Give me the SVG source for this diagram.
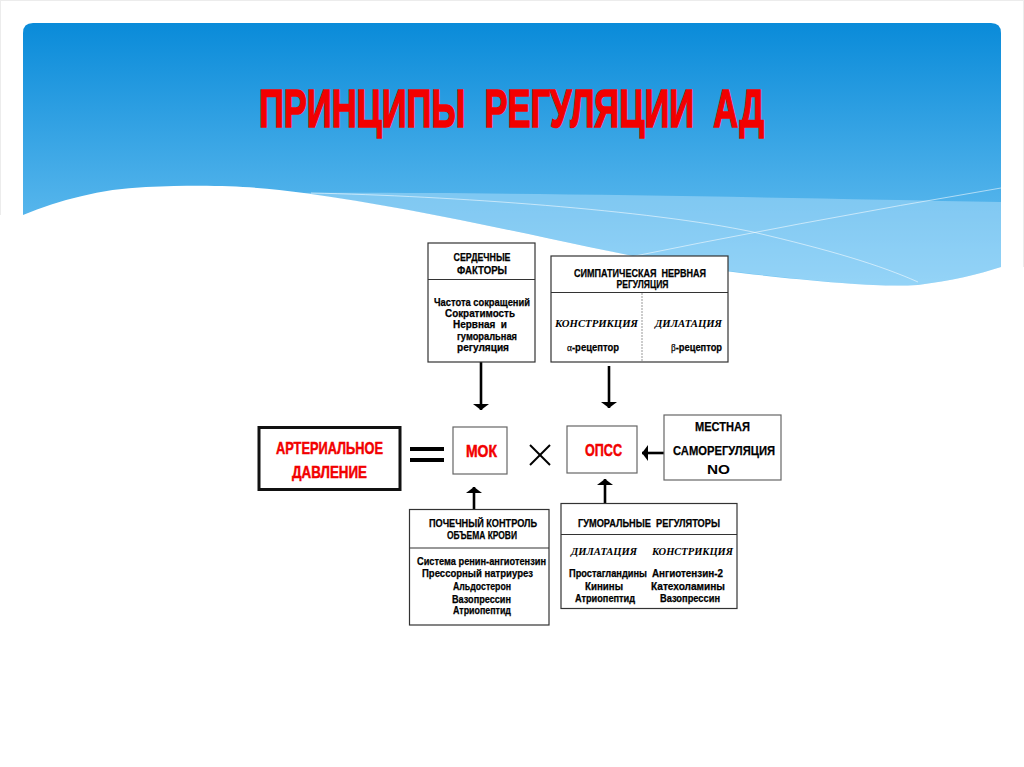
<svg xmlns="http://www.w3.org/2000/svg" width="1024" height="767" viewBox="0 0 1024 767">
<defs>
<linearGradient id="sky" gradientUnits="userSpaceOnUse" x1="0" y1="23" x2="0" y2="285">
<stop offset="0" stop-color="#0a8bd9"/>
<stop offset="1" stop-color="#72c5f3"/>
</linearGradient>
<marker id="ah" viewBox="0 0 6 16" refX="6" refY="8" markerWidth="6" markerHeight="16" markerUnits="userSpaceOnUse" orient="auto">
<path d="M0,0 L6,8 L0,16 Z" fill="#000"/>
</marker>
<style>
.cn{font-family:"Liberation Sans Narrow","Liberation Sans",Arial,sans-serif;font-weight:bold;text-anchor:middle;fill:#000;stroke:#000;stroke-width:0.25}
.it{font-family:"Liberation Serif","Times New Roman",serif;font-weight:bold;font-style:italic;text-anchor:middle;fill:#000;font-size:11px}
.hd{font-size:11px}
.bd{font-size:10.5px}
.red{fill:#f20000;stroke:#f20000;stroke-width:0.5;font-size:17px}
.box{fill:#fff;stroke:#333;stroke-width:1.2}
.sm{fill:#fff;stroke:#666;stroke-width:1.2}
.conn{stroke:#000;stroke-width:2.6;fill:none;marker-end:url(#ah)}
</style>
</defs>
<rect x="0.5" y="0.5" width="1023" height="766" fill="#fff" stroke="#ececec"/>
<g id="background">
<path d="M23,33 Q23,23 33,23 L991,23 Q1001,23 1001,33 L1001,290 L23,290 Z" fill="url(#sky)"/>
<path d="M300,193 C 480,192 760,197 1001,202 L1001,267 C 980,274 950,281 918,285 C 880,286 860,285 842,283 C 720,272 660,262 589,247 C 500,228 400,206 300,193 Z" fill="#c4e8fc" opacity="0.42"/>
<path d="M311,193 C 450,196 650,210 753,232 C 830,250 880,265 918,282" fill="none" stroke="#fff" stroke-opacity="0.55" stroke-width="1"/>
<path d="M600,263 Q800,222 1001,188" fill="none" stroke="#fff" stroke-opacity="0.55" stroke-width="1"/>
<path d="M0,215 L23,215 C 60,200 100,189 146,187 C 220,184 260,187 304,193 C 400,206 500,228 589,247 C 660,262 720,273 842,283 C 880,286 900,286 918,285 C 950,281 980,274 1001,267 L1024,267 L1024,767 L0,767 Z" fill="#fff"/>
</g>
<g id="title">
<text x="511.5" y="127" font-family="Liberation Sans Narrow,Liberation Sans,Arial,sans-serif" font-weight="bold" font-size="54" fill="#f20000" stroke="#f20000" stroke-width="1.6" text-anchor="middle" textLength="505" lengthAdjust="spacingAndGlyphs">ПРИНЦИПЫ&#160;&#160;РЕГУЛЯЦИИ&#160;&#160;АД</text>
</g>
<g id="connectors">
<line class="conn" x1="481" y1="362" x2="481" y2="410"/>
<line class="conn" x1="609" y1="366" x2="609" y2="408"/>
<line class="conn" x1="474" y1="509" x2="474" y2="487"/>
<line class="conn" x1="605" y1="503" x2="605" y2="479"/>
<line class="conn" x1="664" y1="453" x2="642" y2="453"/>
</g>
<g id="cardiac">
<rect class="box" x="428" y="243" width="107" height="119"/>
<line x1="428" y1="279.5" x2="535" y2="279.5" stroke="#333" stroke-width="1.2"/>
<text class="cn hd" x="482" y="260.5" textLength="57" lengthAdjust="spacingAndGlyphs">СЕРДЕЧНЫЕ</text>
<text class="cn hd" x="482" y="274" textLength="50" lengthAdjust="spacingAndGlyphs">ФАКТОРЫ</text>
<text class="cn bd" x="482" y="305.5" textLength="96" lengthAdjust="spacingAndGlyphs">Частота сокращений</text>
<text class="cn bd" x="480" y="317" textLength="70" lengthAdjust="spacingAndGlyphs">Сократимость</text>
<text class="cn bd" x="480" y="328" textLength="54" lengthAdjust="spacingAndGlyphs">Нервная&#160;&#160;и</text>
<text class="cn bd" x="487" y="339.5" textLength="60" lengthAdjust="spacingAndGlyphs">гуморальная</text>
<text class="cn bd" x="483" y="351" textLength="52" lengthAdjust="spacingAndGlyphs">регуляция</text>
</g>
<g id="sympathetic">
<rect class="box" x="551" y="256" width="177" height="106"/>
<line x1="551" y1="292.5" x2="728" y2="292.5" stroke="#333" stroke-width="1.2"/>
<line x1="642" y1="293" x2="642" y2="362" stroke="#999" stroke-width="1" stroke-dasharray="2,1"/>
<text class="cn hd" x="640" y="276.5" textLength="132" lengthAdjust="spacingAndGlyphs">СИМПАТИЧЕСКАЯ&#160;&#160;НЕРВНАЯ</text>
<text class="cn hd" x="642.5" y="287.5" textLength="52" lengthAdjust="spacingAndGlyphs">РЕГУЛЯЦИЯ</text>
<text class="it" x="596.5" y="327" textLength="83" lengthAdjust="spacingAndGlyphs">КОНСТРИКЦИЯ</text>
<text class="it" x="688.5" y="327" textLength="67" lengthAdjust="spacingAndGlyphs">ДИЛАТАЦИЯ</text>
<text class="cn bd" x="593" y="351" textLength="52" lengthAdjust="spacingAndGlyphs"><tspan font-family="Liberation Serif,serif" font-weight="normal">α</tspan>-рецептор</text>
<text class="cn bd" x="696.5" y="351" textLength="51" lengthAdjust="spacingAndGlyphs"><tspan font-family="Liberation Serif,serif" font-weight="normal">β</tspan>-рецептор</text>
</g>
<g id="arterial">
<rect x="259" y="427.5" width="141" height="62" fill="#fff" stroke="#111" stroke-width="3"/>
<text class="cn red" x="329.5" y="454" textLength="107" lengthAdjust="spacingAndGlyphs">АРТЕРИАЛЬНОЕ</text>
<text class="cn red" x="329.5" y="478" textLength="75" lengthAdjust="spacingAndGlyphs">ДАВЛЕНИЕ</text>
</g>
<g id="equals">
<rect x="410" y="447" width="34" height="4" fill="#000"/>
<rect x="410" y="458" width="34" height="4" fill="#000"/>
</g>
<g id="mok">
<rect class="sm" x="453" y="427" width="54" height="47"/>
<text class="cn red" x="481.5" y="456.5" textLength="31" lengthAdjust="spacingAndGlyphs">МОК</text>
</g>
<g id="times">
<line x1="530" y1="445" x2="550" y2="465" stroke="#000" stroke-width="2"/>
<line x1="550" y1="445" x2="530" y2="465" stroke="#000" stroke-width="2"/>
</g>
<g id="opss">
<rect class="sm" x="567" y="426" width="70" height="47"/>
<text class="cn red" x="603.5" y="456" textLength="37" lengthAdjust="spacingAndGlyphs">ОПСС</text>
</g>
<g id="local">
<rect class="sm" x="664" y="415" width="117" height="65"/>
<text class="cn" x="722.5" y="431" textLength="55" lengthAdjust="spacingAndGlyphs" style="font-size:13px">МЕСТНАЯ</text>
<text class="cn" x="724" y="455" textLength="102" lengthAdjust="spacingAndGlyphs" style="font-size:13px">САМОРЕГУЛЯЦИЯ</text>
<text x="718.5" y="474" font-family="Liberation Sans,Arial,sans-serif" font-weight="bold" font-size="13" text-anchor="middle" textLength="23" lengthAdjust="spacingAndGlyphs">NO</text>
</g>
<g id="renal">
<rect class="box" x="409.5" y="509.5" width="139.5" height="115.5"/>
<line x1="409.5" y1="548" x2="549" y2="548" stroke="#333" stroke-width="1.2"/>
<text class="cn hd" x="483" y="526.5" textLength="108" lengthAdjust="spacingAndGlyphs">ПОЧЕЧНЫЙ КОНТРОЛЬ</text>
<text class="cn hd" x="482" y="539" textLength="70" lengthAdjust="spacingAndGlyphs">ОБЪЕМА КРОВИ</text>
<text class="cn bd" x="481.5" y="565" textLength="129" lengthAdjust="spacingAndGlyphs">Система ренин-ангиотензин</text>
<text class="cn bd" x="477.5" y="577" textLength="111" lengthAdjust="spacingAndGlyphs">Прессорный натриурез</text>
<text class="cn bd" x="482" y="589.5" textLength="58" lengthAdjust="spacingAndGlyphs">Альдостерон</text>
<text class="cn bd" x="481.5" y="602.5" textLength="59" lengthAdjust="spacingAndGlyphs">Вазопрессин</text>
<text class="cn bd" x="482" y="614" textLength="58" lengthAdjust="spacingAndGlyphs">Атриопептид</text>
</g>
<g id="humoral">
<rect class="box" x="561" y="503.5" width="176" height="105"/>
<line x1="561" y1="534.5" x2="737" y2="534.5" stroke="#333" stroke-width="1.2"/>
<text class="cn hd" x="649" y="526.5" textLength="142" lengthAdjust="spacingAndGlyphs">ГУМОРАЛЬНЫЕ&#160;&#160;РЕГУЛЯТОРЫ</text>
<text class="it" x="604" y="555" textLength="66" lengthAdjust="spacingAndGlyphs">ДИЛАТАЦИЯ</text>
<text class="it" x="692.5" y="555" textLength="81" lengthAdjust="spacingAndGlyphs">КОНСТРИКЦИЯ</text>
<text class="cn bd" x="608" y="577" textLength="78" lengthAdjust="spacingAndGlyphs">Простагландины</text>
<text class="cn bd" x="604" y="589.5" textLength="38" lengthAdjust="spacingAndGlyphs">Кинины</text>
<text class="cn bd" x="605" y="601.5" textLength="60" lengthAdjust="spacingAndGlyphs">Атриопептид</text>
<text class="cn bd" x="687.5" y="577" textLength="71" lengthAdjust="spacingAndGlyphs">Ангиотензин-2</text>
<text class="cn bd" x="688" y="589.5" textLength="74" lengthAdjust="spacingAndGlyphs">Катехоламины</text>
<text class="cn bd" x="690" y="601.5" textLength="60" lengthAdjust="spacingAndGlyphs">Вазопрессин</text>
</g>
</svg>
